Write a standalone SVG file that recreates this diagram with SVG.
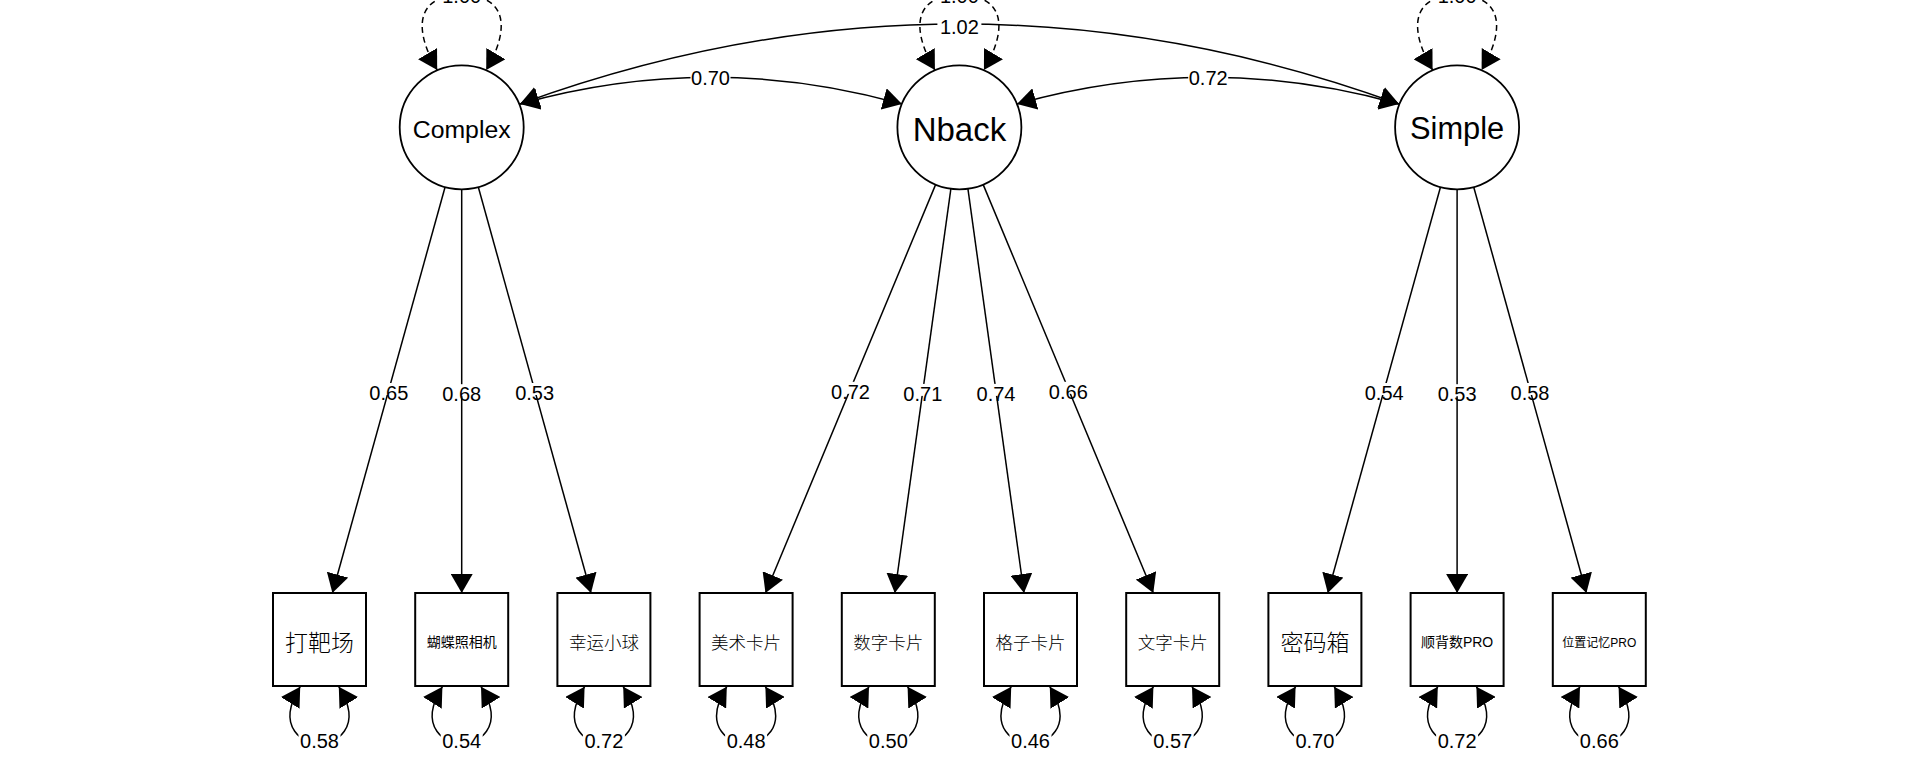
<svg xmlns="http://www.w3.org/2000/svg" width="1920" height="768" viewBox="0 0 1920 768">
<style>
.edge{fill:none;stroke:#000;stroke-width:1.5}
.dash{stroke-dasharray:6,4}
.lat{fill:#fff;stroke:#000;stroke-width:1.8}
.man{fill:#fff;stroke:#000;stroke-width:2}
.bg{fill:#fff;stroke:none}
.lbl{font-family:"Liberation Sans",Arial,sans-serif;font-size:20px;text-anchor:middle;fill:#000}
.lt{font-family:"Liberation Sans",Arial,sans-serif;text-anchor:middle;fill:#000}
.cjk{font-family:"Noto Sans CJK SC",sans-serif;text-anchor:middle;fill:#000}
.mix{font-family:"Liberation Sans","Noto Sans CJK SC",sans-serif;text-anchor:middle;fill:#000}
</style>
<defs>
<marker id="ah" viewBox="0 0 19 22" refX="19" refY="11" markerWidth="19" markerHeight="22" markerUnits="userSpaceOnUse" orient="auto-start-reverse">
<path d="M0,0 L19,11 L0,22 Z" fill="#000"/>
</marker>
</defs>
<rect x="0" y="0" width="1920" height="768" fill="#fff"/>
<g id="connectors">
<path class="edge dash" marker-start="url(#ah)" marker-end="url(#ah)" d="M437.2,70 C411.85,26.9 417.7,-5 461.7,-5 C505.7,-5 511.55,26.9 486.2,70"/>
<path class="edge dash" marker-start="url(#ah)" marker-end="url(#ah)" d="M934.9,70 C909.55,26.9 915.4,-5 959.4,-5 C1003.4,-5 1009.25,26.9 983.9,70"/>
<path class="edge dash" marker-start="url(#ah)" marker-end="url(#ah)" d="M1432.6,70 C1407.25,26.9 1413.1,-5 1457.1,-5 C1501.1,-5 1506.95,26.9 1481.6,70"/>
<path class="edge" marker-start="url(#ah)" marker-end="url(#ah)" d="M520,104 Q959.5,-56 1399,104"/>
<path class="edge" marker-start="url(#ah)" marker-end="url(#ah)" d="M520,104 Q711,50.5 902,104"/>
<path class="edge" marker-start="url(#ah)" marker-end="url(#ah)" d="M1017,104 Q1208,50.5 1399,104"/>
<path class="edge" marker-end="url(#ah)" d="M445.1,187 L332.4,593"/>
<path class="edge" marker-end="url(#ah)" d="M461.7,189.3 L461.7,593"/>
<path class="edge" marker-end="url(#ah)" d="M478.3,187 L591,593"/>
<path class="edge" marker-end="url(#ah)" d="M935.6,184.6 L765.5,593"/>
<path class="edge" marker-end="url(#ah)" d="M950.9,188.7 L894.8,593"/>
<path class="edge" marker-end="url(#ah)" d="M967.9,188.7 L1024,593"/>
<path class="edge" marker-end="url(#ah)" d="M983.2,184.6 L1153.3,593"/>
<path class="edge" marker-end="url(#ah)" d="M1440.5,187 L1327.8,593"/>
<path class="edge" marker-end="url(#ah)" d="M1457.1,189.3 L1457.1,593"/>
<path class="edge" marker-end="url(#ah)" d="M1473.7,187 L1586.4,593"/>
<path class="edge" marker-start="url(#ah)" marker-end="url(#ah)" d="M300.2,686.7 C273.8,729.2 305.5,744 319.5,744 C333.5,744 365.2,729.2 338.8,686.7"/>
<path class="edge" marker-start="url(#ah)" marker-end="url(#ah)" d="M442.4,686.7 C416,729.2 447.7,744 461.7,744 C475.7,744 507.4,729.2 481,686.7"/>
<path class="edge" marker-start="url(#ah)" marker-end="url(#ah)" d="M584.6,686.7 C558.2,729.2 589.9,744 603.9,744 C617.9,744 649.6,729.2 623.2,686.7"/>
<path class="edge" marker-start="url(#ah)" marker-end="url(#ah)" d="M726.8,686.7 C700.4,729.2 732.1,744 746.1,744 C760.1,744 791.8,729.2 765.4,686.7"/>
<path class="edge" marker-start="url(#ah)" marker-end="url(#ah)" d="M869,686.7 C842.6,729.2 874.3,744 888.3,744 C902.3,744 934,729.2 907.6,686.7"/>
<path class="edge" marker-start="url(#ah)" marker-end="url(#ah)" d="M1011.2,686.7 C984.8,729.2 1016.5,744 1030.5,744 C1044.5,744 1076.2,729.2 1049.8,686.7"/>
<path class="edge" marker-start="url(#ah)" marker-end="url(#ah)" d="M1153.4,686.7 C1127,729.2 1158.7,744 1172.7,744 C1186.7,744 1218.4,729.2 1192,686.7"/>
<path class="edge" marker-start="url(#ah)" marker-end="url(#ah)" d="M1295.6,686.7 C1269.2,729.2 1300.9,744 1314.9,744 C1328.9,744 1360.6,729.2 1334.2,686.7"/>
<path class="edge" marker-start="url(#ah)" marker-end="url(#ah)" d="M1437.8,686.7 C1411.4,729.2 1443.1,744 1457.1,744 C1471.1,744 1502.8,729.2 1476.4,686.7"/>
<path class="edge" marker-start="url(#ah)" marker-end="url(#ah)" d="M1580,686.7 C1553.6,729.2 1585.3,744 1599.3,744 C1613.3,744 1645,729.2 1618.6,686.7"/>
</g>
<g id="edge-labels">
<rect class="bg" x="440.7" y="-13" width="42" height="14"/><text class="lbl" x="461.7" y="2.7">1.00</text>
<rect class="bg" x="938.4" y="-13" width="42" height="14"/><text class="lbl" x="959.4" y="2.7">1.00</text>
<rect class="bg" x="1436.1" y="-13" width="42" height="14"/><text class="lbl" x="1457.1" y="2.7">1.00</text>
<rect class="bg" x="937.4" y="19" width="44" height="15"/><text class="lbl" x="959.4" y="33.8">1.02</text>
<rect class="bg" x="690.5" y="70" width="40" height="15"/><text class="lbl" x="710.5" y="84.7">0.70</text>
<rect class="bg" x="1188.2" y="70" width="40" height="15"/><text class="lbl" x="1208.2" y="84.7">0.72</text>
<rect class="bg" x="368.8" y="383" width="40" height="12"/><text class="lbl" x="388.8" y="400">0.65</text>
<rect class="bg" x="441.7" y="384.2" width="40" height="12"/><text class="lbl" x="461.7" y="401.2">0.68</text>
<rect class="bg" x="514.6" y="383" width="40" height="12"/><text class="lbl" x="534.6" y="400">0.53</text>
<rect class="bg" x="830.5" y="381.8" width="40" height="12"/><text class="lbl" x="850.5" y="398.8">0.72</text>
<rect class="bg" x="902.8" y="383.9" width="40" height="12"/><text class="lbl" x="922.8" y="400.9">0.71</text>
<rect class="bg" x="976" y="383.9" width="40" height="12"/><text class="lbl" x="996" y="400.9">0.74</text>
<rect class="bg" x="1048.3" y="381.8" width="40" height="12"/><text class="lbl" x="1068.3" y="398.8">0.66</text>
<rect class="bg" x="1364.2" y="383" width="40" height="12"/><text class="lbl" x="1384.2" y="400">0.54</text>
<rect class="bg" x="1437.1" y="384.2" width="40" height="12"/><text class="lbl" x="1457.1" y="401.2">0.53</text>
<rect class="bg" x="1510" y="383" width="40" height="12"/><text class="lbl" x="1530" y="400">0.58</text>
<rect class="bg" x="298.5" y="731" width="42" height="20"/><text class="lbl" x="319.5" y="748.3">0.58</text>
<rect class="bg" x="440.7" y="731" width="42" height="20"/><text class="lbl" x="461.7" y="748.3">0.54</text>
<rect class="bg" x="582.9" y="731" width="42" height="20"/><text class="lbl" x="603.9" y="748.3">0.72</text>
<rect class="bg" x="725.1" y="731" width="42" height="20"/><text class="lbl" x="746.1" y="748.3">0.48</text>
<rect class="bg" x="867.3" y="731" width="42" height="20"/><text class="lbl" x="888.3" y="748.3">0.50</text>
<rect class="bg" x="1009.5" y="731" width="42" height="20"/><text class="lbl" x="1030.5" y="748.3">0.46</text>
<rect class="bg" x="1151.7" y="731" width="42" height="20"/><text class="lbl" x="1172.7" y="748.3">0.57</text>
<rect class="bg" x="1293.9" y="731" width="42" height="20"/><text class="lbl" x="1314.9" y="748.3">0.70</text>
<rect class="bg" x="1436.1" y="731" width="42" height="20"/><text class="lbl" x="1457.1" y="748.3">0.72</text>
<rect class="bg" x="1578.3" y="731" width="42" height="20"/><text class="lbl" x="1599.3" y="748.3">0.66</text>
</g>
<g id="Complex"><circle class="lat" cx="461.7" cy="127.3" r="62"/><text class="lt" x="461.7" y="138.3" font-size="24.8">Complex</text></g>
<g id="Nback"><circle class="lat" cx="959.4" cy="127.3" r="62"/><text class="lt" x="959.4" y="140.7" font-size="33">Nback</text></g>
<g id="Simple"><circle class="lat" cx="1457.1" cy="127.3" r="62"/><text class="lt" x="1457.1" y="139.3" font-size="30.8">Simple</text></g>
<g id="dabachang"><rect class="man" x="273" y="593" width="93" height="93"/><text class="cjk" x="319.5" y="650.5" font-size="23" font-weight="300">打靶场</text></g>
<g id="hudiezhaoxiangji"><rect class="man" x="415.2" y="593" width="93" height="93"/><text class="cjk" x="461.7" y="647" font-size="14">蝴蝶照相机</text></g>
<g id="xingyunxiaoqiu"><rect class="man" x="557.4" y="593" width="93" height="93"/><text class="cjk" x="603.9" y="648.5" font-size="17.5" font-weight="300">幸运小球</text></g>
<g id="meishukapian"><rect class="man" x="699.6" y="593" width="93" height="93"/><text class="cjk" x="746.1" y="648.5" font-size="17.5" font-weight="300">美术卡片</text></g>
<g id="shuzikapian"><rect class="man" x="841.8" y="593" width="93" height="93"/><text class="cjk" x="888.3" y="648.5" font-size="17.5" font-weight="300">数字卡片</text></g>
<g id="gezikapian"><rect class="man" x="984" y="593" width="93" height="93"/><text class="cjk" x="1030.5" y="648.5" font-size="17.5" font-weight="300">格子卡片</text></g>
<g id="wenzikapian"><rect class="man" x="1126.2" y="593" width="93" height="93"/><text class="cjk" x="1172.7" y="648.5" font-size="17.5" font-weight="300">文字卡片</text></g>
<g id="mimaxiang"><rect class="man" x="1268.4" y="593" width="93" height="93"/><text class="cjk" x="1314.9" y="650.5" font-size="23" font-weight="300">密码箱</text></g>
<g id="shunbeishuPRO"><rect class="man" x="1410.6" y="593" width="93" height="93"/><text class="mix" x="1457.1" y="647" font-size="14">顺背数PRO</text></g>
<g id="weizhijiyiPRO"><rect class="man" x="1552.8" y="593" width="93" height="93"/><text class="mix" x="1599.3" y="646.5" font-size="12">位置记忆PRO</text></g>
</svg>
